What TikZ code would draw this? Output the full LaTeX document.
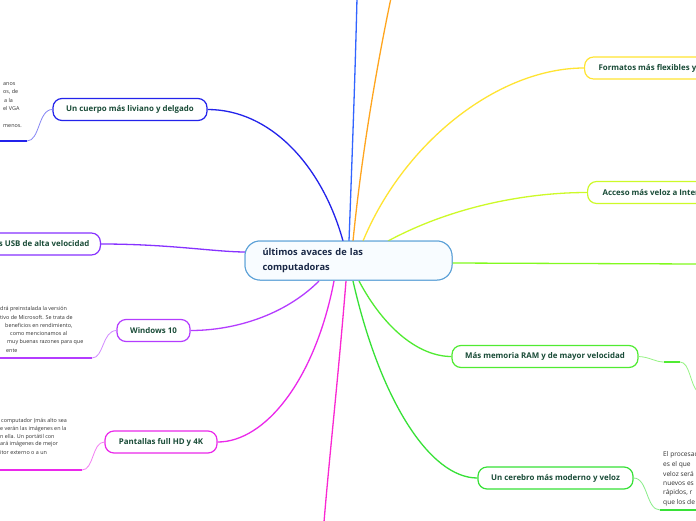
\documentclass[tikz,border=0pt]{standalone}
\usepackage{fontspec}
\setmainfont{Open Sans}
\definecolor{cBlue}{RGB}{35,35,235}
\definecolor{cBlueTop}{RGB}{50,100,255}
\definecolor{cOrange}{RGB}{255,165,30}
\definecolor{cYellow}{RGB}{255,228,50}
\definecolor{cYG}{RGB}{205,250,40}
\definecolor{cLime}{RGB}{130,250,30}
\definecolor{cGreenA}{RGB}{80,235,50}
\definecolor{cGreenB}{RGB}{55,225,55}
\definecolor{cMag}{RGB}{235,40,235}
\definecolor{cMagB}{RGB}{250,40,210}
\definecolor{cViolet}{RGB}{180,60,255}
\definecolor{cPurple}{RGB}{135,50,255}
\definecolor{cCenter}{RGB}{90,160,215}
\definecolor{cCenterFill}{RGB}{248,252,255}
\definecolor{nodetext}{RGB}{25,75,55}
\definecolor{centertext}{RGB}{25,40,70}
\definecolor{smalltext}{RGB}{50,50,50}
\tikzset{
  topic/.style={draw, rounded corners=9pt, line width=1.2pt, fill=white, text=nodetext,
    font=\bfseries\fontsize{7.9}{9}\selectfont, minimum height=22pt, inner sep=0pt},
  centerbox/.style={draw=cCenter, line width=1pt, fill=cCenterFill, rounded corners=15pt,
    minimum width=207pt, minimum height=39pt, text width=172pt, align=left, inner sep=0pt,
    text=centertext, font=\bfseries\fontsize{9.3}{15}\selectfont},
  branch/.style={line width=1.3pt},
  sub/.style={line width=0.8pt},
  under/.style={line width=2.4pt},
  small/.style={anchor=west, inner sep=0pt, text=smalltext, font=\fontsize{5.4}{6}\selectfont},
  smallr/.style={anchor=west, inner sep=0pt, text=smalltext, font=\fontsize{6.6}{8}\selectfont}
}
\begin{document}
\begin{tikzpicture}[x=1pt,y=-1pt]
\useasboundingbox (0,0) rectangle (696,520);
\clip (0,0) rectangle (696,520);
\fill[white] (0,0) rectangle (696,520);

% free ends
\coordinate (topA) at (357,-2);
\coordinate (topB) at (391,-2);
\coordinate (botA) at (324,522);
\coordinate (rightL) at (698,264);

% center node
\node[centerbox] (C) at (348.5,260.5) {últimos avaces de las\\computadoras};

% topic nodes
\node[topic, draw=cBlue, minimum width=154pt] (N1) at (130,109.5) {Un cuerpo más liviano y delgado};
\node[topic, draw=cPurple, anchor=east, inner xsep=11pt] (N2) at (101,244) {Puertos USB de alta velocidad};
\node[topic, draw=cViolet, minimum width=73pt] (N3) at (153.5,330.5) {Windows 10};
\node[topic, draw=cMag, minimum width=112pt] (N4) at (161,442) {Pantallas full HD y 4K};
\node[topic, draw=cYellow, anchor=west, inner xsep=14pt] (N5) at (584,68) {Formatos más flexibles y};
\node[topic, draw=cYG, anchor=west, inner xsep=15pt] (N6) at (587,192.5) {Acceso más veloz a Internet};
\node[topic, draw=cGreenA, minimum width=186pt] (N7) at (545,356.5) {Más memoria RAM y de mayor velocidad};
\node[topic, draw=cGreenB, minimum width=155pt] (N8) at (555.5,478) {Un cerebro más moderno y veloz};

% main branches
\draw[branch, cBlue] (343,241) .. controls (322,165) and (270,109.5) .. (N1.east);
\draw[branch, cPurple] (N2.east) .. controls (170,244) and (215,252) .. (246,252);
\draw[branch, cViolet] (319,281) .. controls (285,315) and (235,330.5) .. (N3.east);
\draw[branch, cMag] (334,281) .. controls (315,380) and (265,442) .. (N4.east);
\draw[branch, cMagB] (346,281) .. controls (338,380) and (330,450) .. (botA);
\draw[branch, cBlueTop] (349,241) .. controls (352,160) and (355,80) .. (topA);
\draw[branch, cOrange] (353,241) .. controls (362,150) and (378,60) .. (topB);
\draw[branch, cYellow] (363,241) .. controls (405,140) and (500,68) .. (N5.west);
\draw[branch, cYG] (388,241) .. controls (455,205) and (530,192.5) .. (N6.west);
\draw[branch, cLime] (452,263) -- (rightL);
\draw[branch, cGreenA] (359,281) .. controls (385,330) and (420,356.5) .. (N7.west);
\draw[branch, cGreenB] (353,281) .. controls (380,400) and (430,478) .. (N8.west);

% sub connectors and underlines
\coordinate (u1) at (27,141);
\coordinate (u1l) at (-2,141);
\draw[sub, cBlue!55] (N1.west) .. controls (38,109.5) and (40,141) .. (u1);
\draw[under, cBlue] (u1l) -- (u1);

\coordinate (u3) at (92,358);
\coordinate (u3l) at (-2,358);
\draw[sub, cViolet!60] (N3.west) .. controls (102,331) and (104,358) .. (u3);
\draw[under, cViolet] (u3l) -- (u3);

\coordinate (u4) at (82,470);
\coordinate (u4l) at (-2,470);
\draw[sub, cMag!60] (N4.west) .. controls (92,442) and (94,470) .. (u4);
\draw[under, cMag] (u4l) -- (u4);

\coordinate (u7a) at (664,362);
\coordinate (u7b) at (680,362);
\coordinate (u7c) at (698,392);
\draw[sub, cGreenA!60] (N7.east) .. controls (650,357) and (655,362) .. (u7a);
\draw[under, cGreenA] (u7a) -- (u7b);
\draw[sub, cGreenA!60] (u7b) .. controls (690,362) and (690,385) .. (u7c);

\coordinate (u8) at (660,510);
\coordinate (u8r) at (698,510);
\draw[sub, cGreenB!60] (N8.east) .. controls (648,478) and (646,510) .. (u8);
\draw[under, cGreenB] (u8) -- (u8r);

% center node again on top of the branch ends
\node[centerbox] at (348.5,260.5) {últimos avaces de las\\computadoras};

% small text blocks (cut by the frame)
\node[small] (t11) at (3,84) {anos};
\node[small] (t12) at (3,92) {os, de};
\node[small] (t13) at (4,100) {a la};
\node[small] (t14) at (3,108) {el VGA};
\node[small] (t15) at (3,126) {menos.};

\node[small] (t31) at (0,309) {drá preinstalada la versión};
\node[small] (t32) at (0,317) {tivo de Microsoft. Se trata de};
\node[small] (t33) at (5,325.5) {beneficios en rendimiento,};
\node[small] (t34) at (10,333.5) {como mencionamos al};
\node[small] (t35) at (7,342) {muy buenas razones para que};
\node[small] (t36) at (6,350.5) {ente};

\node[small] (t41) at (1,421) {computador (más alto sea};
\node[small] (t42) at (0,429) {e verán las imágenes en la};
\node[small] (t43) at (0,437) {n ella. Un portátil con};
\node[small] (t44) at (0,444.5) {ará imágenes de mejor};
\node[small] (t45) at (0,452.5) {itor externo o a un};

\node[smallr] (t81) at (663,455) {El procesador};
\node[smallr] (t82) at (663,464.5) {es el que};
\node[smallr] (t83) at (663,474) {veloz será};
\node[smallr] (t84) at (663,483.5) {nuevos es};
\node[smallr] (t85) at (663,493) {rápidos, r};
\node[smallr] (t86) at (663,502.5) {que los de};
\end{tikzpicture}
\end{document}
